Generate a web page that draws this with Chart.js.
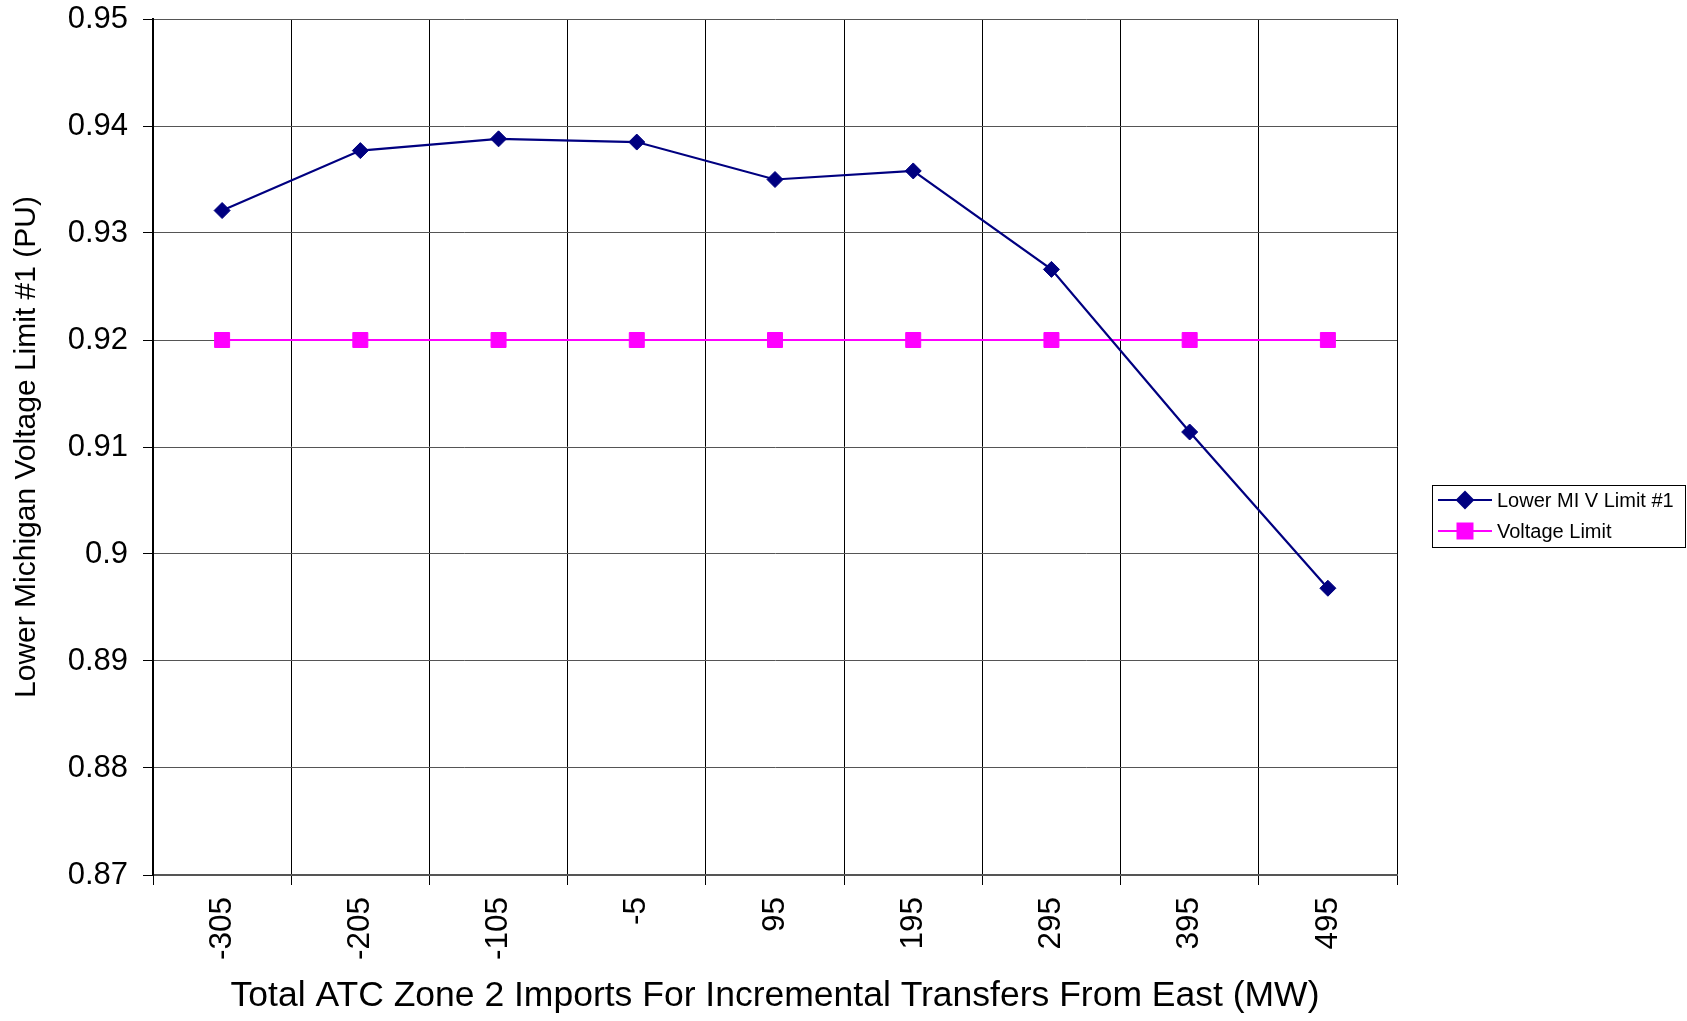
<!DOCTYPE html>
<html>
<head>
<meta charset="utf-8">
<script src="https://cdn.jsdelivr.net/npm/chart.js@4"></script>
<style>
  html, body { margin: 0; padding: 0; background: #fff; }
  #wrap { width: 1687px; height: 1021px; position: relative; }
</style>
</head>
<body>
<div id="wrap"><canvas id="c" width="1687" height="1021"></canvas></div>
<script>
const categories = ['-305', '-205', '-105', '-5', '95', '195', '295', '395', '495'];
const lowerMIVLimit = [0.9321, 0.9377, 0.9388, 0.9385, 0.9350, 0.9358, 0.9266, 0.9114, 0.8968];
const voltageLimit = [0.92, 0.92, 0.92, 0.92, 0.92, 0.92, 0.92, 0.92, 0.92];
const seriesNames = ['Lower MI V Limit #1', 'Voltage Limit'];
const yMin = 0.87, yMax = 0.95, yStep = 0.01;
const xTitle = 'Total ATC Zone 2 Imports For Incremental Transfers From East (MW)';
const yTitle = 'Lower Michigan Voltage Limit #1 (PU)';

const FONT = "'Liberation Sans', Arial, Helvetica, sans-serif";

const legendPlugin = {
  id: 'boxLegend',
  afterDraw(chart) {
    const ctx = chart.ctx;
    const bx = 1432, by = 485, bw = 253, bh = 62;
    ctx.save();
    ctx.fillStyle = '#fff';
    ctx.fillRect(bx, by, bw, bh);
    ctx.strokeStyle = '#000';
    ctx.lineWidth = 1;
    ctx.strokeRect(bx + 0.5, by + 0.5, bw, bh);
    const rows = [500, 531];
    chart.data.datasets.forEach((ds, i) => {
      const y = rows[i];
      ctx.strokeStyle = ds.borderColor;
      ctx.lineWidth = 2;
      ctx.beginPath();
      ctx.moveTo(1438, y);
      ctx.lineTo(1492, y);
      ctx.stroke();
      ctx.fillStyle = ds.pointBackgroundColor;
      ctx.strokeStyle = ds.pointBorderColor;
      Chart.helpers.drawPoint(ctx, {
        pointStyle: ds.pointStyle, rotation: 0,
        radius: ds.pointRadius, borderWidth: 1
      }, 1465, y);
      ctx.fillStyle = '#000';
      ctx.font = '20px ' + FONT;
      ctx.textAlign = 'left';
      ctx.textBaseline = 'middle';
      ctx.fillText(ds.label, 1497, y + 1);
    });
    ctx.restore();
  }
};

const bgPlugin = {
  id: 'bg',
  beforeDraw(chart) {
    const ctx = chart.ctx;
    ctx.save();
    ctx.fillStyle = '#fff';
    ctx.fillRect(0, 0, chart.width, chart.height);
    ctx.restore();
  }
};

new Chart(document.getElementById('c'), {
  type: 'line',
  data: {
    labels: categories,
    datasets: [
      {
        label: seriesNames[0],
        data: lowerMIVLimit,
        borderColor: '#000080',
        backgroundColor: '#000080',
        pointBackgroundColor: '#000080',
        pointBorderColor: '#000080',
        pointStyle: 'rectRot',
        pointRadius: 8,
        pointBorderWidth: 1,
        borderWidth: 2.2,
        tension: 0,
        fill: false
      },
      {
        label: seriesNames[1],
        data: voltageLimit,
        borderColor: '#FF00FF',
        backgroundColor: '#FF00FF',
        pointBackgroundColor: '#FF00FF',
        pointBorderColor: '#FF00FF',
        pointStyle: 'rect',
        pointRadius: 10.6,
        pointBorderWidth: 1,
        borderWidth: 2,
        tension: 0,
        fill: false
      }
    ]
  },
  options: {
    responsive: false,
    animation: false,
    devicePixelRatio: 1,
    layout: { padding: { top: 0, right: 290, bottom: 0, left: 0 } },
    plugins: {
      legend: { display: false },
      tooltip: { enabled: false },
      title: { display: false }
    },
    scales: {
      x: {
        type: 'category',
        offset: true,
        grid: {
          offset: true,
          color: '#000',
          lineWidth: 1,
          drawTicks: true,
          tickLength: 10,
          tickColor: '#000'
        },
        border: { display: true, color: '#555', width: 2 },
        ticks: {
          color: '#000',
          font: { family: FONT, size: 31.5 },
          maxRotation: 90,
          minRotation: 90,
          padding: 12,
          autoSkip: false
        },
        title: {
          display: true,
          text: xTitle,
          color: '#000',
          font: { family: FONT, size: 35.5 },
          padding: { top: 0, bottom: 3 }
        },
        afterFit(scale) { scale.height = 146; }
      },
      y: {
        type: 'linear',
        min: yMin,
        max: yMax,
        grid: {
          color: '#555',
          lineWidth: 1,
          drawTicks: true,
          tickLength: 10,
          tickColor: '#000'
        },
        border: { display: true, color: '#000', width: 2 },
        ticks: {
          stepSize: yStep,
          color: '#000',
          font: { family: FONT, size: 31 },
          padding: 15,
          callback: (v) => String(Number(Number(v).toFixed(2)))
        },
        title: {
          display: true,
          text: yTitle,
          color: '#000',
          font: { family: FONT, size: 30 },
          padding: { top: 9, bottom: 0 }
        },
        afterFit(scale) { scale.width = 153; scale.paddingTop = 19; }
      }
    }
  },
  plugins: [bgPlugin, legendPlugin]
});
</script>
</body>
</html>
